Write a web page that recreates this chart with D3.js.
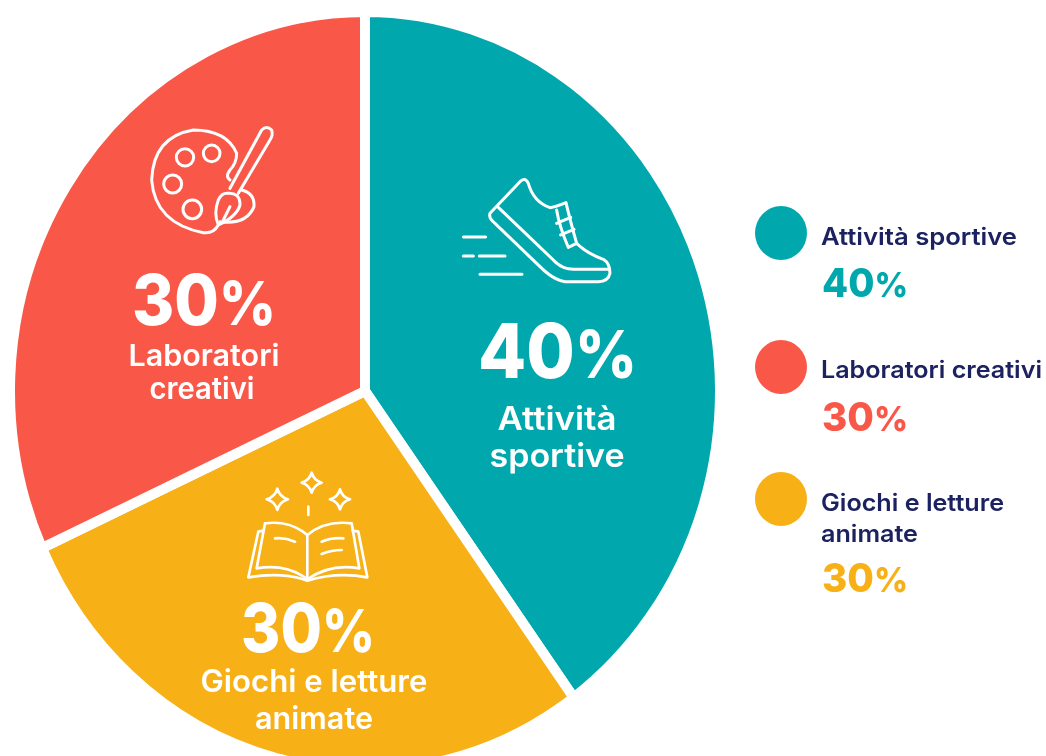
<!DOCTYPE html>
<html><head><meta charset="utf-8">
<script src="https://cdn.jsdelivr.net/npm/d3@7"></script>
<style>html,body{margin:0;padding:0;background:#fff;overflow:hidden}svg{display:block}text{font-family:Inter,Lato,sans-serif}</style>
</head><body><svg id="c" width="1046" height="756"></svg>
<script>
const categories = ["Attività sportive","Giochi e letture animate","Laboratori creativi"];
const labels = [40,30,30];
// slice sizes as drawn in the picture (the drawn slices differ from the printed percentages)
const drawnShares = [40,28.2,31.8];
const colors = ["#03a8ad","#f7b016","#f9594a"];
const pieLabelLines = [["Attività","sportive"],["Giochi e letture","animate"],["Laboratori","creativi"]];
const legendOrder = [0,2,1];
const legendLines = [["Attività sportive"],["Giochi e letture","animate"],["Laboratori creativi"]];

const svg = d3.select("#c");
svg.append("defs").append("filter").attr("id","soft").append("feGaussianBlur").attr("stdDeviation",0.65);
const root = svg.append("g").attr("filter","url(#soft)");

const cx=365, cy=391, Rx=355, Ry=379;
const pie = d3.pie().sort(null).value((d,i)=>drawnShares[i]);
const arc = d3.arc().innerRadius(0).outerRadius(Rx);
const arcs = pie(categories.map((c,i)=>i));
root.append("g").attr("transform",`translate(${cx},${cy}) scale(1,${Ry/Rx})`)
 .selectAll("path").data(arcs).join("path")
 .attr("d",arc).attr("fill",(d,i)=>colors[i]).attr("stroke","#fff").attr("stroke-width",10)
 .attr("vector-effect","non-scaling-stroke").attr("stroke-linejoin","miter");

// percentage drawn as digits plus a slightly smaller % sign
function pct(x,y,size,w,fill,value){
  const t=root.append("text").attr("x",x).attr("y",y).attr("fill",fill).attr("font-weight",800).attr("font-size",size)
    .attr("textLength",w).attr("lengthAdjust","spacingAndGlyphs");
  t.append("tspan").text(value);
  t.append("tspan").attr("font-size",size*0.86).text("%");
}
// slice labels: [left x, baseline, font size, text width]
const pctPos=[[478,378,76,159],[241,652,68,134],[132,325,70,144]];
const namePos=[[[557,430,33,119],[557,467,33,135]],[[314,692,31,227],[314,729,31,118]],[[204,366,30,151],[202,399,30,105]]];
categories.forEach((c,i)=>{
  const p=pctPos[i];
  pct(p[0],p[1],p[2],p[3],"#fff",labels[i]);
  pieLabelLines[i].forEach((l,j)=>{
    const n=namePos[i][j];
    root.append("text").attr("x",n[0]).attr("y",n[1]).attr("text-anchor","middle").attr("fill","#fff")
      .attr("font-weight",600).attr("font-size",n[2]).attr("textLength",n[3]).attr("lengthAdjust","spacingAndGlyphs").text(l);
  });
});

// icons
function icon(x,y,w,paths){
  const ic=root.append("g").attr("transform",`translate(${x},${y}) scale(0.3333)`)
    .attr("fill","none").attr("stroke","#fff").attr("stroke-width",w).attr("stroke-linecap","round").attr("stroke-linejoin","round");
  paths.forEach(p=>ic.append("path").attr("d",p));
  return ic;
}
icon(440,160,9,[
 "M150 160 L240 65 Q255 50 265 70 Q280 125 330 143 Q350 140 378 128 Q390 180 410 250 Q440 280 490 298 Q510 310 510 340 Q505 365 475 365 L375 365 Q340 360 300 320 L165 190 Q145 175 150 160 Z",
 "M175 142 L340 300 Q365 328 400 328 L505 328",
 "M350 150 Q358 200 385 262 L410 250 M350 190 L392 172 M362 225 L402 208",
 "M70 231 H137 M70 288 H100 M118 288 H195 M120 343 H246"
]);
const pal=icon(130,110,9,[
 "M300 210 Q285 200 300 180 Q320 160 320 130 Q290 60 190 60 Q70 80 65 210 Q75 340 220 368 Q250 372 265 345",
 "M300 235 L395 60 Q410 45 425 60 Q430 75 420 90 L325 250",
 "M290 250 Q330 245 330 285 Q320 320 265 345 Q250 310 265 270 Q275 250 290 250 Z",
 "M335 240 Q375 250 372 290 Q350 345 270 335",
 "M280 330 L300 290"
]);
[[165,142,26],[245,130,25],[128,222,27],[187,298,28]].forEach(d=>pal.append("circle").attr("cx",d[0]).attr("cy",d[1]).attr("r",d[2]));
const bk=icon(230,460,8,[
 "M232 225 Q180 180 105 190 L80 325 Q170 310 232 358 Q300 310 388 325 L365 190 Q285 180 232 225 Z",
 "M232 225 V358",
 "M100 212 L85 215 L55 352 Q160 335 232 362 Q320 335 412 352 L385 215 L368 212",
 "M135 235 Q165 232 195 245 M275 245 Q305 232 340 235 M275 282 Q305 270 335 270",
 "M235 140 V165"
]);
[[245,68,30],[142,118,32],[330,118,30]].forEach(d=>{
  const [x,y,r]=d, k=r*0.22;
  bk.append("path").attr("d",`M${x} ${y-r} Q${x+k} ${y-k} ${x+r} ${y} Q${x+k} ${y+k} ${x} ${y+r} Q${x-k} ${y+k} ${x-r} ${y} Q${x-k} ${y-k} ${x} ${y-r} Z`);
});

// legend (rows top to bottom)
const legY=[233,367,499], pctY=[297,431,592], nameY=[[245],[378],[511,542]], nameW=[[196],[221],[183,97]];
legendOrder.forEach((s,i)=>{
  root.append("ellipse").attr("cx",781).attr("cy",legY[i]).attr("rx",26).attr("ry",27).attr("fill",colors[s]);
  legendLines[s].forEach((l,j)=>{
    root.append("text").attr("x",821).attr("y",nameY[i][j]).attr("fill","#1b2260").attr("font-weight",600)
      .attr("font-size",24).attr("textLength",nameW[i][j]).attr("lengthAdjust","spacingAndGlyphs").text(l);
  });
  pct(822,pctY[i],40,86,colors[s],labels[s]);
});
</script></body></html>
